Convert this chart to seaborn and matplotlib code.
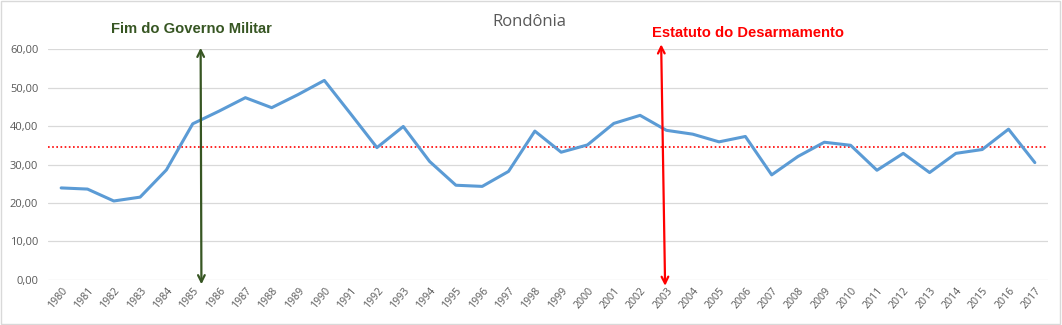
import matplotlib
matplotlib.use("Agg")
import matplotlib.pyplot as plt
import seaborn as sns
import pandas as pd
from matplotlib.patches import Rectangle

years = list(range(1980, 2018))
taxa = [23.9, 23.6, 20.5, 21.5, 28.6, 40.6, 43.9, 47.4, 44.8, 48.2,
        51.9, 43.2, 34.4, 39.9, 30.8, 24.6, 24.3, 28.2, 38.7, 33.2,
        35.1, 40.7, 42.8, 38.9, 37.9, 35.9, 37.3, 27.3, 32.1, 35.8,
        35.0, 28.5, 32.9, 27.9, 32.9, 33.9, 39.2, 30.5]
media = 34.6
y_ticks = [0, 10, 20, 30, 40, 50, 60]

evento_militar = 1985.3
evento_estatuto = 2003.0

df = pd.DataFrame({"ano": years, "taxa": taxa})

sns.set_style("white")
plt.rcParams["font.family"] = ["Open Sans", "DejaVu Sans"]

fig = plt.figure(figsize=(10.62, 3.25), dpi=100)
ax = fig.add_axes([48 / 1062, 45 / 325, 1000 / 1062, 231 / 325])

sns.lineplot(data=df, x="ano", y="taxa", ax=ax, color="#5B9BD5",
             linewidth=2.2, zorder=3)
ax.axhline(media, color="#FF0000", linestyle=(0, (1, 1.5)), linewidth=1.2,
           zorder=2)

ax.set_xlim(1979.5, 2017.5)
ax.set_ylim(-0.08, 60.08)
ax.set_yticks(y_ticks)
ax.set_yticklabels([f"{v:.2f}".replace(".", ",") for v in y_ticks],
                   fontsize=8, color="#595959")
ax.set_xticks(years)
ax.set_xticklabels([str(y) for y in years], rotation=50, ha="right",
                   rotation_mode="anchor", fontsize=7.6, color="#595959")
ax.tick_params(axis="y", length=0, pad=7)
ax.tick_params(axis="x", length=0, pad=4)
ax.grid(axis="y", color="#D9D9D9", linewidth=0.9)
ax.set_axisbelow(True)
for s in ax.spines.values():
    s.set_visible(False)
ax.set_xlabel("")
ax.set_ylabel("")

# event arrows
ax.annotate("", xy=(evento_militar, 60.4), xytext=(evento_militar + 0.03, -1.2),
            arrowprops=dict(arrowstyle="<->", color="#375623", lw=1.6,
                            mutation_scale=12, shrinkA=0, shrinkB=0),
            annotation_clip=False, zorder=4)
ax.annotate("", xy=(evento_estatuto - 0.2, 61.3), xytext=(evento_estatuto - 0.05, -1.6),
            arrowprops=dict(arrowstyle="<->", color="#FF0000", lw=1.6,
                            mutation_scale=12, shrinkA=0, shrinkB=0),
            annotation_clip=False, zorder=4)

fig.text(191 / 1062, 1 - 29 / 325, "Fim do Governo Militar", ha="center",
         va="center", fontsize=10.6, fontweight="bold", color="#375623",
         family=["Liberation Sans", "DejaVu Sans"])
fig.text(652 / 1062, 1 - 33 / 325, "Estatuto do Desarmamento", ha="left",
         va="center", fontsize=10.6, fontweight="bold", color="#FF0000",
         family=["Liberation Sans", "DejaVu Sans"])
fig.text(529 / 1062, 1 - 22 / 325, "Rondônia", ha="center", va="center",
         fontsize=12, color="#595959")

fig.patches.append(Rectangle((0.001, 0.002), 0.997, 0.995, transform=fig.transFigure,
                             fill=False, edgecolor="#D9D9D9", linewidth=1))

fig.savefig("out.png", dpi=100, facecolor="white")
